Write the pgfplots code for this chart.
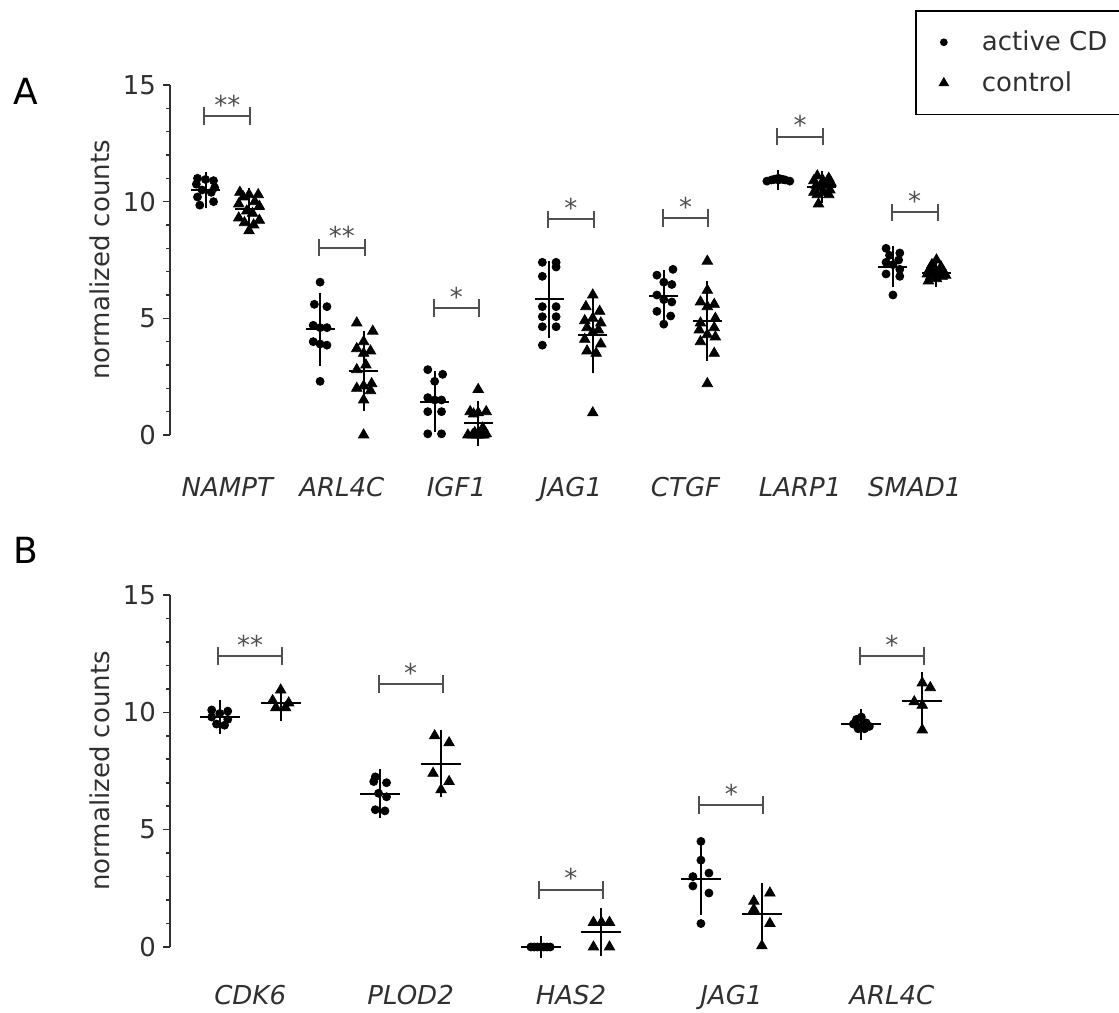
\documentclass[border=0pt]{standalone}
\usepackage{fontspec}
\setmainfont{DejaVu Sans}
\usepackage{pgfplots}
\usepackage{pgfplotstable}
\pgfplotsset{compat=1.18}
\definecolor{txt}{HTML}{303030}
\definecolor{brkc}{HTML}{505050}
\newcommand{\fs}{\fontsize{13pt}{15.6pt}\selectfont}

\pgfplotstableread{
x y
-0.26 11.0
-0.19 10.95
-0.12 10.9
-0.27 10.75
-0.11 10.6
-0.22 10.5
-0.14 10.4
-0.26 10.2
-0.12 10.0
-0.24 9.85
0.81 6.55
0.76 5.6
0.87 5.5
0.75 4.7
0.81 4.6
0.87 4.6
0.75 4.0
0.81 3.9
0.87 3.85
0.81 2.3
1.75 2.8
1.88 2.6
1.81 2.3
1.75 1.6
1.81 1.5
1.87 1.5
1.75 1.0
1.87 1.0
1.75 0.05
1.87 0.05
2.75 7.4
2.87 7.4
2.87 7.2
2.75 6.8
2.75 5.5
2.87 5.5
2.75 5.07
2.87 5.07
2.75 4.64
2.87 4.64
2.75 3.85
3.89 7.1
3.75 6.85
3.81 6.55
3.88 6.45
3.75 6.0
3.81 5.8
3.88 5.7
3.75 5.3
3.87 5.1
3.81 4.75
4.71 10.88
4.75 10.93
4.79 10.97
4.81 11.0
4.83 10.97
4.87 10.93
4.91 10.88
4.77 10.95
4.85 10.95
4.81 10.93
5.75 8.0
5.87 7.8
5.78 7.7
5.86 7.5
5.75 7.4
5.81 7.3
5.87 7.1
5.75 6.9
5.87 6.8
5.81 6.0
}\TopAct

\pgfplotstableread{
x y
0.11 10.4
0.19 10.3
0.27 10.3
0.14 10.2
0.24 10.0
0.10 9.9
0.28 9.8
0.17 9.6
0.22 9.5
0.10 9.3
0.28 9.2
0.15 9.1
0.23 9.0
0.19 8.75
1.13 4.8
1.27 4.45
1.19 4.0
1.13 3.7
1.25 3.6
1.19 3.5
1.21 3.0
1.13 2.8
1.26 2.2
1.19 2.1
1.13 2.0
1.25 1.9
1.19 1.5
1.19 0.0
2.19 1.95
2.12 1.0
2.19 0.95
2.26 1.0
2.15 0.9
2.23 0.3
2.10 0.0
2.14 0.0
2.18 0.0
2.22 0.0
2.26 0.05
2.16 0.1
2.24 0.0
2.20 0.0
3.19 6.0
3.13 5.5
3.25 5.3
3.19 5.0
3.12 4.9
3.26 4.8
3.14 4.6
3.24 4.5
3.19 4.4
3.12 4.1
3.26 3.9
3.14 3.6
3.22 3.5
3.19 0.95
4.19 7.45
4.19 6.2
4.13 5.7
4.25 5.6
4.19 5.5
4.26 5.0
4.13 4.8
4.25 4.6
4.12 4.5
4.19 4.3
4.26 4.2
4.13 4.0
4.25 3.5
4.19 2.2
5.15 11.1
5.25 11.0
5.12 10.9
5.20 10.9
5.27 10.8
5.14 10.7
5.22 10.7
5.18 10.6
5.26 10.5
5.12 10.4
5.20 10.4
5.15 10.3
5.25 10.3
5.16 9.9
6.19 7.5
6.15 7.3
6.23 7.2
6.13 7.1
6.19 7.0
6.25 7.0
6.16 6.95
6.22 6.9
6.11 6.9
6.27 6.85
6.14 6.8
6.24 6.8
6.19 6.7
6.12 6.6
}\TopCtl

\pgfplotstableread{
x m s
-0.19 10.5 0.38
0.81 4.53 1.17
1.81 1.43 0.93
2.81 5.81 1.28
3.81 5.96 0.72
4.81 10.94 0.04
5.81 7.21 0.49
0.19 9.7 0.5
1.19 2.76 1.33
2.19 0.5 0.57
3.19 4.3 1.27
4.19 4.9 1.33
5.19 10.62 0.3
6.19 6.95 0.24
}\TopMean

\pgfplotstableread{
x y
-0.24 10.1
-0.14 10.05
-0.19 9.95
-0.24 9.8
-0.14 9.7
-0.21 9.5
-0.16 9.45
0.78 7.25
0.77 7.05
0.85 7.0
0.80 6.55
0.85 6.4
0.78 5.85
0.84 5.8
1.75 0.0
1.77 0.0
1.79 0.0
1.81 0.0
1.83 0.0
1.85 0.0
1.87 0.0
2.81 4.5
2.81 3.7
2.86 3.15
2.76 3.0
2.76 2.6
2.86 2.3
2.81 1.0
3.81 9.8
3.78 9.7
3.84 9.55
3.76 9.5
3.86 9.4
3.79 9.3
3.83 9.3
}\BotAct

\pgfplotstableread{
x y
0.19 10.95
0.14 10.5
0.24 10.4
0.16 10.2
0.22 10.2
1.15 9.0
1.24 8.7
1.14 7.4
1.24 7.05
1.19 6.7
2.14 1.05
2.19 1.05
2.24 1.05
2.14 0.0
2.24 0.0
3.24 2.3
3.14 1.95
3.14 1.6
3.24 1.0
3.19 0.05
4.19 11.25
4.24 11.05
4.14 10.45
4.19 10.3
4.19 9.25
}\BotCtl

\pgfplotstableread{
x m s
-0.19 9.79 0.25
0.81 6.54 0.57
1.81 0 0
2.81 2.9 1.08
3.81 9.49 0.2
0.19 10.41 0.3
1.19 7.8 0.96
2.19 0.65 0.55
3.19 1.4 0.87
4.19 10.48 0.75
}\BotMean

% #1 left x, #2 right x, #3 centre x, #4 y, #5 y-0.38, #6 y+0.38, #7 stars
\newcommand{\sig}[7]{%
  \draw[brkc, line width=1pt] (axis cs:#1,#4) -- (axis cs:#2,#4);
  \draw[brkc, line width=1pt] (axis cs:#1,#5) -- (axis cs:#1,#6);
  \draw[brkc, line width=1pt] (axis cs:#2,#5) -- (axis cs:#2,#6);
  \node[anchor=base, inner sep=0pt, text=brkc, font=\fs, yshift=1pt] at (axis cs:#3,#4) {#7};
}

\pgfplotsset{
  panel/.style={
    scale only axis, width=401pt, xmin=-0.5, ymin=0, ymax=15, clip=false,
    axis y line*=left, axis x line*=bottom,
    x axis line style={draw=none},
    y axis line style={draw=txt, line width=0.8pt, -},
    xtick style={draw=none},
    ytick={0,5,10,15}, minor y tick num=4, tick align=outside,
    major tick length=3.5pt, minor tick length=2pt,
    ytick style={draw=txt, line width=0.8pt},
    minor y tick style={draw=txt, line width=0.8pt},
    tick label style={font=\fs, text=txt},
    /pgf/number format/assume math mode=true,
    xticklabel style={font=\fs\itshape, text=txt, anchor=base, yshift=-27.5pt},
    ylabel={normalized counts},
    ylabel style={font=\fs, text=txt, at={(axis description cs:-0.0873,0.5)}, anchor=center},
    legend image code/.code={\path[draw=none,fill=none] (-14pt,0pt) (19pt,0pt); \draw[##1] plot coordinates {(0pt,0pt)};},
  },
  pts/.style={forget plot, only marks, mark=*, mark size=2pt, black},
  tri/.style={forget plot, only marks, mark=triangle*, mark size=3pt, black},
}

\begin{document}
\begin{tikzpicture}
\useasboundingbox (0,0) rectangle (559.5pt,506pt);
\node[font=\fontsize{18pt}{20pt}\selectfont, text=black] at (13pt,460.25pt) {A};
\node[font=\fontsize{18pt}{20pt}\selectfont, text=black] at (13pt,231pt) {B};

\begin{axis}[panel, at={(85pt,288.5pt)}, anchor=south west, height=175pt, xmax=6.5,
  xtick={0,1,2,3,4,5,6}, xticklabels={NAMPT,ARL4C,IGF1,JAG1,CTGF,LARP1,SMAD1},
  legend style={at={(axis description cs:0.929,1.214)}, anchor=north west, draw=black,
    line width=0.8pt, font=\fs, text=txt, inner xsep=0pt, inner ysep=10pt,
    nodes={inner sep=0pt}, row sep=9pt},
  legend cell align=left]
\addlegendimage{mark=*, mark size=1.5pt, black}
\addlegendimage{mark=triangle*, mark size=2.3pt, black}
\legend{active CD\hspace*{30pt}, control}
\addplot[pts] table[x=x,y=y]{\TopAct};
\addplot[tri] table[x=x,y=y]{\TopCtl};
\addplot[forget plot, only marks, black, mark=-, mark size=7.25pt, mark options={line width=1pt},
  error bars/.cd, y dir=both, y explicit, error bar style={line width=1pt, black},
  error mark options={mark size=4.5pt, line width=1pt, black}]
  table[x=x, y=m, y error=s]{\TopMean};
\sig{-0.2}{0.2}{0}{13.67}{13.29}{14.05}{**}
\sig{0.8}{1.2}{1}{8.03}{7.65}{8.41}{**}
\sig{1.8}{2.2}{2}{5.43}{5.05}{5.81}{*}
\sig{2.8}{3.2}{3}{9.24}{8.86}{9.62}{*}
\sig{3.8}{4.2}{4}{9.29}{8.91}{9.67}{*}
\sig{4.8}{5.2}{5}{12.79}{12.41}{13.17}{*}
\sig{5.8}{6.2}{6}{9.54}{9.16}{9.92}{*}
\end{axis}

\begin{axis}[panel, at={(85pt,32.5pt)}, anchor=south west, height=176pt, xmax=4.5,
  xtick={0,1,2,3,4}, xticklabels={CDK6,PLOD2,HAS2,JAG1,ARL4C},
  xticklabel style={yshift=2.5pt}]
\addplot[pts] table[x=x,y=y]{\BotAct};
\addplot[tri] table[x=x,y=y]{\BotCtl};
\addplot[forget plot, only marks, black, mark=-, mark size=10pt, mark options={line width=1pt},
  error bars/.cd, y dir=both, y explicit, error bar style={line width=1pt, black},
  error mark options={mark size=5.5pt, line width=1pt, black}]
  table[x=x, y=m, y error=s]{\BotMean};
\sig{-0.2}{0.2}{0}{12.4}{12.02}{12.78}{**}
\sig{0.8}{1.2}{1}{11.19}{10.81}{11.57}{*}
\sig{1.8}{2.2}{2}{2.43}{2.05}{2.81}{*}
\sig{2.8}{3.2}{3}{6.05}{5.67}{6.43}{*}
\sig{3.8}{4.2}{4}{12.4}{12.02}{12.78}{*}
\end{axis}
\end{tikzpicture}
\end{document}
